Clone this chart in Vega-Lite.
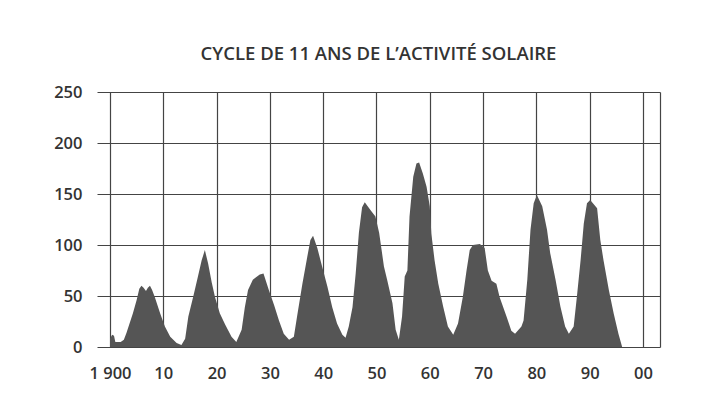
{
  "$schema": "https://vega.github.io/schema/vega-lite/v6.json",
  "autosize": {"type": "none"},
  "width": 563,
  "height": 255,
  "padding": {"left": 97, "top": 92, "right": 53, "bottom": 56},
  "background": "#ffffff",
  "title": {
    "text": "CYCLE DE 11 ANS DE L’ACTIVITÉ SOLAIRE",
    "font": "Open Sans",
    "fontSize": 18.5,
    "fontWeight": 600,
    "color": "#333333",
    "anchor": "middle",
    "offset": 21
  },
  "config": {
    "view": {"stroke": null},
    "axis": {
      "labelFont": "Open Sans",
      "labelFontSize": 16.5,
      "labelFontWeight": 600,
      "labelColor": "#333333",
      "gridColor": "#444444",
      "gridWidth": 1.2,
      "gridOpacity": 1,
      "domain": false,
      "ticks": false,
      "title": null,
      "labelOverlap": false,
      "labelFlush": false,
      "labelBound": false
    }
  },
  "data": {
    "values": [
      {"year": 1900.0, "sunspots": 8}, {"year": 1900.4, "sunspots": 12}, {"year": 1900.75, "sunspots": 11},
      {"year": 1901.0, "sunspots": 5}, {"year": 1902.0, "sunspots": 5}, {"year": 1902.6, "sunspots": 7},
      {"year": 1903.1, "sunspots": 14}, {"year": 1904.3, "sunspots": 33}, {"year": 1905.0, "sunspots": 46},
      {"year": 1905.5, "sunspots": 57}, {"year": 1905.9, "sunspots": 60}, {"year": 1906.3, "sunspots": 58},
      {"year": 1906.75, "sunspots": 55}, {"year": 1907.1, "sunspots": 58}, {"year": 1907.5, "sunspots": 60},
      {"year": 1907.9, "sunspots": 56}, {"year": 1908.4, "sunspots": 49}, {"year": 1909.4, "sunspots": 33},
      {"year": 1910.3, "sunspots": 20}, {"year": 1911.3, "sunspots": 10}, {"year": 1912.5, "sunspots": 4},
      {"year": 1913.4, "sunspots": 2}, {"year": 1914.1, "sunspots": 8}, {"year": 1914.7, "sunspots": 30},
      {"year": 1915.6, "sunspots": 49}, {"year": 1916.5, "sunspots": 69}, {"year": 1917.2, "sunspots": 85},
      {"year": 1917.8, "sunspots": 95}, {"year": 1918.4, "sunspots": 82}, {"year": 1919.1, "sunspots": 63},
      {"year": 1919.7, "sunspots": 49}, {"year": 1920.6, "sunspots": 33}, {"year": 1921.6, "sunspots": 22},
      {"year": 1922.8, "sunspots": 10}, {"year": 1923.7, "sunspots": 5}, {"year": 1924.7, "sunspots": 17},
      {"year": 1925.3, "sunspots": 39}, {"year": 1925.9, "sunspots": 56}, {"year": 1926.8, "sunspots": 66},
      {"year": 1928.1, "sunspots": 71}, {"year": 1928.8, "sunspots": 72}, {"year": 1929.8, "sunspots": 56},
      {"year": 1930.8, "sunspots": 41}, {"year": 1931.7, "sunspots": 26}, {"year": 1932.6, "sunspots": 13},
      {"year": 1933.6, "sunspots": 7}, {"year": 1934.5, "sunspots": 10}, {"year": 1935.1, "sunspots": 30},
      {"year": 1936.1, "sunspots": 62}, {"year": 1937.0, "sunspots": 88}, {"year": 1937.6, "sunspots": 105},
      {"year": 1938.1, "sunspots": 109}, {"year": 1938.9, "sunspots": 97}, {"year": 1939.8, "sunspots": 79},
      {"year": 1940.8, "sunspots": 59}, {"year": 1941.7, "sunspots": 39}, {"year": 1942.6, "sunspots": 23},
      {"year": 1943.6, "sunspots": 12}, {"year": 1944.2, "sunspots": 9}, {"year": 1944.8, "sunspots": 20},
      {"year": 1945.5, "sunspots": 39}, {"year": 1946.1, "sunspots": 72}, {"year": 1946.7, "sunspots": 112},
      {"year": 1947.3, "sunspots": 137}, {"year": 1947.8, "sunspots": 142}, {"year": 1948.9, "sunspots": 134},
      {"year": 1949.8, "sunspots": 128}, {"year": 1950.5, "sunspots": 112}, {"year": 1951.4, "sunspots": 79},
      {"year": 1952.0, "sunspots": 66}, {"year": 1953.0, "sunspots": 43}, {"year": 1953.6, "sunspots": 17},
      {"year": 1954.2, "sunspots": 7}, {"year": 1954.8, "sunspots": 30}, {"year": 1955.3, "sunspots": 69},
      {"year": 1955.8, "sunspots": 75}, {"year": 1956.2, "sunspots": 128}, {"year": 1956.9, "sunspots": 167},
      {"year": 1957.5, "sunspots": 180}, {"year": 1958.0, "sunspots": 181}, {"year": 1958.7, "sunspots": 170},
      {"year": 1959.4, "sunspots": 157}, {"year": 1960.0, "sunspots": 138}, {"year": 1960.3, "sunspots": 111},
      {"year": 1960.9, "sunspots": 85}, {"year": 1961.6, "sunspots": 62}, {"year": 1962.5, "sunspots": 40},
      {"year": 1963.4, "sunspots": 20}, {"year": 1964.4, "sunspots": 12}, {"year": 1965.3, "sunspots": 23},
      {"year": 1966.2, "sunspots": 49}, {"year": 1966.9, "sunspots": 75}, {"year": 1967.5, "sunspots": 95},
      {"year": 1968.1, "sunspots": 100}, {"year": 1969.4, "sunspots": 101}, {"year": 1970.3, "sunspots": 97},
      {"year": 1970.9, "sunspots": 75}, {"year": 1971.6, "sunspots": 65}, {"year": 1972.5, "sunspots": 62},
      {"year": 1973.1, "sunspots": 49}, {"year": 1974.4, "sunspots": 30}, {"year": 1975.3, "sunspots": 16},
      {"year": 1976.0, "sunspots": 13}, {"year": 1977.2, "sunspots": 20}, {"year": 1977.6, "sunspots": 26},
      {"year": 1978.3, "sunspots": 66}, {"year": 1978.9, "sunspots": 115}, {"year": 1979.5, "sunspots": 141},
      {"year": 1980.1, "sunspots": 149}, {"year": 1981.1, "sunspots": 138}, {"year": 1982.0, "sunspots": 115},
      {"year": 1982.6, "sunspots": 92}, {"year": 1983.6, "sunspots": 66}, {"year": 1984.5, "sunspots": 40},
      {"year": 1985.4, "sunspots": 20}, {"year": 1986.1, "sunspots": 13}, {"year": 1987.0, "sunspots": 20},
      {"year": 1987.6, "sunspots": 49}, {"year": 1988.3, "sunspots": 85}, {"year": 1988.9, "sunspots": 121},
      {"year": 1989.5, "sunspots": 141}, {"year": 1990.1, "sunspots": 144}, {"year": 1991.4, "sunspots": 136},
      {"year": 1992.0, "sunspots": 105}, {"year": 1992.6, "sunspots": 85}, {"year": 1993.6, "sunspots": 56},
      {"year": 1994.5, "sunspots": 33}, {"year": 1995.4, "sunspots": 13}, {"year": 1996.1, "sunspots": 0}
    ]
  },
  "mark": {"type": "area", "color": "#555555", "interpolate": "linear"},
  "encoding": {
    "x": {
      "field": "year",
      "type": "quantitative",
      "scale": {"domain": [1897.56, 2003.2], "nice": false, "zero": false},
      "axis": {
        "values": [1900, 1910, 1920, 1930, 1940, 1950, 1960, 1970, 1980, 1990, 2000, 2003.2],
        "labelExpr": "datum.value == 1900 ? '1 900' : datum.value > 2001 ? '' : substring(toString(datum.value), 2)",
        "labelPadding": 18
      }
    },
    "y": {
      "field": "sunspots",
      "type": "quantitative",
      "scale": {"domain": [0, 250], "nice": false},
      "axis": {
        "values": [0, 50, 100, 150, 200, 250],
        "labelPadding": 15
      }
    }
  }
}
